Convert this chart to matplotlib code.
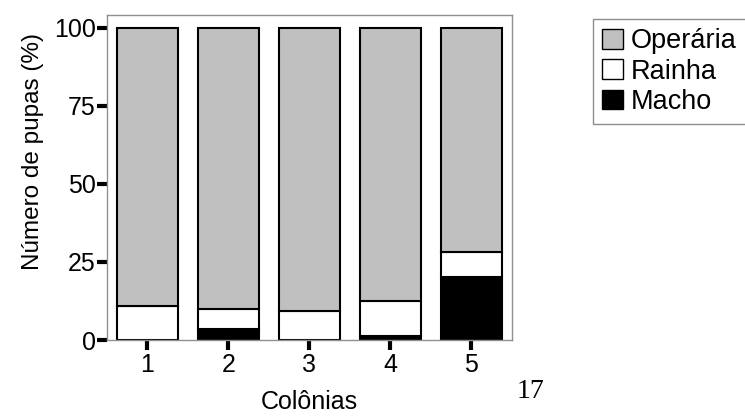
import matplotlib
matplotlib.use("Agg")
import matplotlib.pyplot as plt
import numpy as np

colonias = ["1", "2", "3", "4", "5"]
macho = [0.0, 3.4, 0.0, 1.2, 20.3]
rainha = [11.0, 6.4, 9.3, 11.4, 8.0]
operaria = [100 - m - r for m, r in zip(macho, rainha)]

plt.rcParams['font.family'] = ['Liberation Sans', 'DejaVu Sans']

fig = plt.figure(figsize=(7.45, 4.19), dpi=100)
ax = fig.add_axes([0.1436, 0.1885, 0.5434, 0.7755])

x = np.arange(1, len(colonias) + 1)
w = 0.75
kw = dict(width=w, edgecolor='black', linewidth=1.5)
b1 = ax.bar(x, macho, color='black', **kw)
b2 = ax.bar(x, rainha, bottom=macho, color='white', **kw)
b3 = ax.bar(x, operaria, bottom=np.array(macho) + np.array(rainha), color='#c0c0c0', **kw)

ax.set_xlim(0.5, 5.5)
ax.set_ylim(0, 104)
ax.set_yticks([0, 25, 50, 75, 100])
ax.set_xticks(x)
ax.set_xticklabels(colonias)
for s in ax.spines.values():
    s.set_color('#909090')
    s.set_linewidth(1.0)
ax.tick_params(axis='both', length=7, width=3, color='black', labelsize=18)
ax.tick_params(axis='y', pad=1)
ax.tick_params(axis='x', pad=2)

ax.set_ylabel('Número de pupas (%)', fontsize=17.5)
ax.yaxis.set_label_coords(-0.155, 0.58)
ax.set_xlabel('Colônias', fontsize=18, labelpad=10)

leg = fig.legend([b3, b2, b1], ['Operária', 'Rainha', 'Macho'],
                 loc='upper left', bbox_to_anchor=(0.796, 0.955),
                 fontsize=19.5, fancybox=False, handlelength=0.74, handleheight=0.74,
                 handletextpad=0.3, borderpad=0.35, labelspacing=0.16, borderaxespad=0)
leg.get_frame().set_edgecolor('#707070')
leg.get_frame().set_linewidth(1.0)
for h in leg.legend_handles:
    h.set_linewidth(1.0)

fig.text(0.694, 0.035, '17', family='Liberation Serif', fontsize=20, ha='left', va='bottom')

fig.savefig('out.png', dpi=100)
